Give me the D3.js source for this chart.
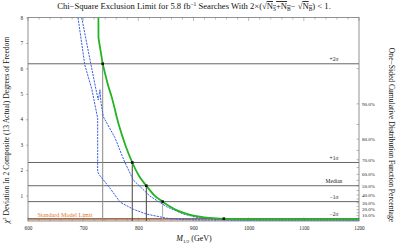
<!DOCTYPE html>
<html><head><meta charset="utf-8">
<script src="https://cdn.jsdelivr.net/npm/d3@7"></script>
<style>body{margin:0;background:#fff}svg{display:block}text{font-family:"Liberation Serif","DejaVu Serif",serif}</style>
</head><body><svg id="c" width="399" height="245"></svg>
<script>
// ---- data ----
const xTicks = [600, 700, 800, 900, 1000, 1100, 1200];
const yTicks = [1, 2, 3, 4, 5, 6, 7, 8];
const pctLabels = [10, 20, 30, 40, 50, 60, 70, 80, 90];
const pctMinor = [5, 15, 25, 35, 45, 55, 65, 75, 85, 95];
const sigmaNames = ["+2σ", "+1σ", "Median", "−1σ", "−2σ"];
const sigmaLevels = [6.18, 2.30, 1.386, 0.762, 0.093];
const sigmaCross = [735.4, 789, 814.5, 844, 955];
const smLimit = 0.05;
const greenM = [727.6, 727.8, 735.4, 745, 752, 765, 777, 789, 801, 814.5, 828, 844, 858, 870, 885, 900, 930, 955, 1000, 1100, 1200];
const greenV = [8.0, 7.2, 6.18, 5.35, 4.85, 3.75, 2.95, 2.30, 1.78, 1.386, 1.03, 0.76, 0.56, 0.42, 0.30, 0.21, 0.12, 0.085, 0.065, 0.06, 0.06];
const blueAM = [690.6, 703, 715.5, 726.3, 726.3, 730.5, 748.6, 767, 791, 815, 851, 880, 912, 1000, 1200];
const blueAV = [8.0, 6.13, 5.2, 4.04, 1.93, 1.78, 1.29, 0.74, 0.46, 0.27, 0.11, 0.06, 0.04, 0.04, 0.04];
const blueBM = [697.3, 714.2, 723.3, 727.4, 730.5, 732.3, 736.5, 757.7, 775, 790.9, 821, 851.4, 881, 911.8, 971.6, 1200];
const blueBV = [8.0, 6.14, 5.16, 4.76, 5.16, 4.65, 4.10, 3.27, 2.33, 1.61, 0.98, 0.56, 0.28, 0.11, 0.04, 0.04];

// ---- layout ----
const svg = d3.select("#c");
const L = 28, R = 359, T = 17.5, B = 221;
const x = d3.scaleLinear().domain([600, 1200]).range([L, R]);
const y = d3.scaleLinear().domain([0, 8]).range([B, T]);
const pctToChi = p => -2 * Math.log(1 - p / 100);

svg.append("clipPath").attr("id", "pc").append("rect")
  .attr("x", L).attr("y", T).attr("width", R - L).attr("height", B - T);

// frame
svg.append("rect").attr("x", L).attr("y", T).attr("width", R - L).attr("height", B - T)
  .attr("fill", "none").attr("stroke", "#777").attr("stroke-width", 0.8);

// x axis (bottom) ticks inside
const xMinor = d3.range(600, 1201, 20);
const gx = svg.append("g").attr("transform", `translate(0,${B})`)
  .call(d3.axisBottom(x).tickValues(xTicks).tickSize(0).tickPadding(5).tickFormat(d3.format("d")));
gx.select(".domain").remove();
gx.selectAll("text").attr("font-size", 5.2).attr("fill", "#222").attr("font-family", "Liberation Serif");
svg.append("g").selectAll("line").data(xMinor).join("line")
  .attr("x1", d => x(d)).attr("x2", d => x(d))
  .attr("y1", B).attr("y2", d => B - (d % 100 === 0 ? 3.5 : 2))
  .attr("stroke", "#777").attr("stroke-width", 0.5);
svg.append("g").selectAll("line").data(xMinor).join("line")
  .attr("x1", d => x(d)).attr("x2", d => x(d))
  .attr("y1", T).attr("y2", d => T + (d % 100 === 0 ? 3.5 : 2))
  .attr("stroke", "#777").attr("stroke-width", 0.5);

// y axis left
const gy = svg.append("g").attr("transform", `translate(${L},0)`)
  .call(d3.axisLeft(y).tickValues(yTicks).tickSize(2).tickPadding(3).tickFormat(d3.format("d")));
gy.select(".domain").remove();
gy.selectAll("line").attr("stroke", "#777").attr("stroke-width", 0.5);
gy.selectAll("text").attr("font-size", 5.2).attr("fill", "#222").attr("font-family", "Liberation Serif");

// right percentage axis
const pctAll = pctMinor.concat(pctLabels);
svg.append("g").selectAll("line").data(pctAll).join("line")
  .attr("x1", R - 2.5).attr("x2", R)
  .attr("y1", d => y(pctToChi(d))).attr("y2", d => y(pctToChi(d)))
  .attr("stroke", "#777").attr("stroke-width", 0.5);
svg.append("g").selectAll("text").data(pctLabels).join("text")
  .attr("x", R + 3).attr("y", d => y(pctToChi(d)) + 1.8)
  .attr("font-size", 5).attr("fill", "#222")
  .text(d => d3.format(".1f")(d) + "%");

const plot = svg.append("g").attr("clip-path", "url(#pc)");

// standard model limit
plot.append("line").attr("x1", x(600)).attr("x2", x(1200))
  .attr("y1", y(smLimit)).attr("y2", y(smLimit))
  .attr("stroke", "#E8742A").attr("stroke-width", 1);

// sigma horizontal lines
plot.append("g").selectAll("line").data(sigmaLevels).join("line")
  .attr("x1", x(600)).attr("x2", x(1200))
  .attr("y1", d => y(d)).attr("y2", d => y(d))
  .attr("stroke", "#666").attr("stroke-width", 1);

// vertical drops
const dropCol = ["#888", "#444", "#444", "#aaa", "#888"];
plot.append("g").selectAll("line").data(sigmaCross).join("line")
  .attr("x1", d => x(d)).attr("x2", d => x(d))
  .attr("y1", (d, i) => y(sigmaLevels[i])).attr("y2", B)
  .attr("stroke", (d, i) => dropCol[i]).attr("stroke-width", 1);

// curves
const line = d3.line().x(d => x(d[0])).y(d => y(d[1]));
const zipA = blueAM.map((m, i) => [m, blueAV[i]]);
const zipB = blueBM.map((m, i) => [m, blueBV[i]]);
const zipG = greenM.map((m, i) => [m, greenV[i]]);
const smooth = d3.line().x(d => x(d[0])).y(d => y(d[1])).curve(d3.curveMonotoneX);
[zipA, zipB].forEach(pts => {
  plot.append("path").attr("d", line(pts)).attr("fill", "none")
    .attr("stroke", "#3a5ee0").attr("stroke-width", 1).attr("stroke-dasharray", "2.2,1");
});
plot.append("path").attr("d", line(zipG.slice(0, 3)) + smooth(zipG.slice(2)).replace(/^M[^C L]*/, m => "L" + m.slice(1)))
  .attr("fill", "none").attr("stroke", "#22b422").attr("stroke-width", 1.8);

// intersection dots
plot.append("g").selectAll("rect").data(sigmaCross).join("rect")
  .attr("x", d => x(d) - 1.3).attr("y", (d, i) => y(sigmaLevels[i]) - 1.3)
  .attr("width", 2.6).attr("height", 2.6).attr("fill", "#111");

// sigma labels
svg.append("g").selectAll("text").data(sigmaNames).join("text")
  .attr("x", x(1154.6)).attr("y", (d, i) => y(sigmaLevels[i]) - 2.5)
  .attr("text-anchor", "middle").attr("font-size", 5.5).attr("fill", "#222")
  .text(d => d);

// SM label
svg.append("text").attr("x", x(617)).attr("y", y(smLimit) - 2.6)
  .attr("font-size", 6.2).attr("fill", "#E8742A").text("Standard Model Limit");

// title
const title = svg.append("text").attr("x", 194).attr("y", 9).attr("text-anchor", "middle")
  .attr("font-size", 8.6).attr("fill", "#111");
title.append("tspan").text("Chi−Square Exclusion Limit for 5.8 fb");
title.append("tspan").attr("font-size", 5.5).attr("dy", -3).text("−1");
title.append("tspan").attr("dy", 3).text(" Searches With 2×(√");
title.append("tspan").attr("text-decoration", "overline").text("N");
title.append("tspan").attr("font-size", 5.5).attr("dy", 1.5).attr("text-decoration", "overline").text("S");
title.append("tspan").attr("dy", -1.5).attr("text-decoration", "overline").text("+N");
title.append("tspan").attr("font-size", 5.5).attr("dy", 1.5).attr("text-decoration", "overline").text("B");
title.append("tspan").attr("dy", -1.5).text("− √");
title.append("tspan").attr("text-decoration", "overline").text("N");
title.append("tspan").attr("font-size", 5.5).attr("dy", 1.5).attr("text-decoration", "overline").text("B");
title.append("tspan").attr("dy", -1.5).text(") < 1.");

// x label
const xl = svg.append("text").attr("x", 194).attr("y", 241).attr("text-anchor", "middle")
  .attr("font-size", 8).attr("fill", "#111");
xl.append("tspan").attr("font-style", "italic").text("M");
xl.append("tspan").attr("font-size", 5).attr("dy", 1.5).text("1/2");
xl.append("tspan").attr("dy", -1.5).text(" (GeV)");

// left y label
const yl = svg.append("text").attr("transform", "translate(9,130) rotate(-90)")
  .attr("text-anchor", "middle").attr("font-size", 7.6).attr("fill", "#111");
yl.append("tspan").attr("font-style", "italic").text("χ");
yl.append("tspan").attr("font-size", 5).attr("dy", -3).text("2");
yl.append("tspan").attr("dy", 3).text(" Deviation In 2 Composite (13 Actual) Degrees of Freedom");

// right y label
svg.append("text").attr("transform", "translate(389,135) rotate(90)")
  .attr("text-anchor", "middle").attr("font-size", 7.6).attr("fill", "#111")
  .text("One−Sided Cumulative Distribution Function Percentage");
</script></body></html>
